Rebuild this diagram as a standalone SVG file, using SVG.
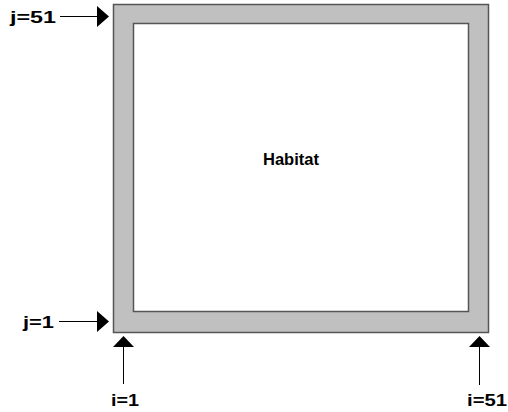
<svg xmlns="http://www.w3.org/2000/svg" width="508" height="412" viewBox="0 0 508 412">
<style>
.lbl{font-family:"Comic Sans MS","Liberation Sans",sans-serif;font-weight:bold;font-size:17px;fill:#000}
.ln{stroke:#000;stroke-width:1;fill:none}
.hd{fill:#000}
</style>
<rect width="508" height="412" fill="#fff"/>
<g id="border">
<path d="M113.5,4.5 H488.5 V332.5 H113.5 Z M133.5,23.5 V311.5 H468.5 V23.5 Z" fill="#c0c0c0" fill-rule="evenodd" stroke="#555" stroke-width="1.5"/>
</g>
<g id="habitat">
<text class="lbl" x="263" y="165" font-size="16" textLength="56" lengthAdjust="spacingAndGlyphs">Habitat</text>
</g>
<g id="connectors">
<line class="ln" x1="60" y1="16.5" x2="98" y2="16.5"/>
<polygon class="hd" points="97,6 109,16.5 97,27"/>
<line class="ln" x1="59" y1="321.5" x2="98" y2="321.5"/>
<polygon class="hd" points="97,311 109,321.5 97,332"/>
<line class="ln" x1="123.5" y1="346" x2="123.5" y2="384"/>
<polygon class="hd" points="123.5,336 113,347 134,347"/>
<line class="ln" x1="479.5" y1="346" x2="479.5" y2="385"/>
<polygon class="hd" points="479.5,336 469,347 490,347"/>
</g>
<g id="j51"><text class="lbl" x="10" y="23" textLength="46" lengthAdjust="spacingAndGlyphs">j=51</text></g>
<g id="j1"><text class="lbl" x="23" y="328" textLength="31" lengthAdjust="spacingAndGlyphs">j=1</text></g>
<g id="i1"><text class="lbl" x="111" y="406" textLength="28" lengthAdjust="spacingAndGlyphs">i=1</text></g>
<g id="i51"><text class="lbl" x="467" y="406" textLength="40" lengthAdjust="spacingAndGlyphs">i=51</text></g>
</svg>
